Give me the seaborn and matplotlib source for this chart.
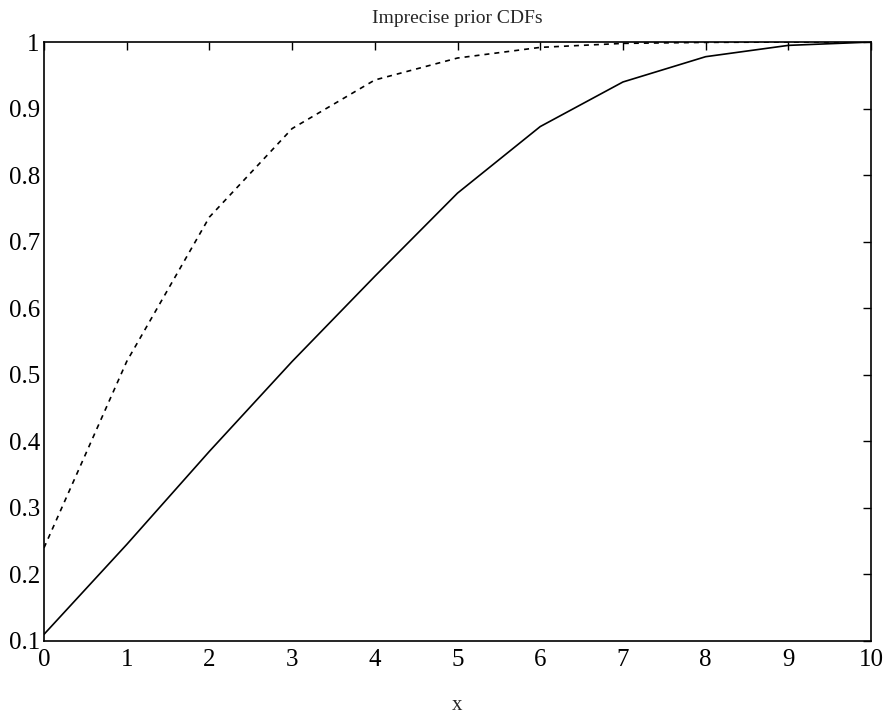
import matplotlib
matplotlib.use("Agg")
import matplotlib.pyplot as plt
import seaborn as sns
import pandas as pd

x_vals = [0, 1, 2, 3, 4, 5, 6, 7, 8, 9, 10]
lower_cdf = [0.11, 0.245, 0.385, 0.52, 0.648, 0.773, 0.873, 0.94, 0.978, 0.995, 1.0]
upper_cdf = [0.24, 0.52, 0.737, 0.87, 0.943, 0.976, 0.992, 0.998, 0.9995, 1.0, 1.0]
x_ticks = [0, 1, 2, 3, 4, 5, 6, 7, 8, 9, 10]
y_ticks = [0.1, 0.2, 0.3, 0.4, 0.5, 0.6, 0.7, 0.8, 0.9, 1.0]
y_tick_labels = ["0.1", "0.2", "0.3", "0.4", "0.5", "0.6", "0.7", "0.8", "0.9", "1"]

df = pd.DataFrame({
    "x": x_vals * 2,
    "cdf": lower_cdf + upper_cdf,
    "curve": ["lower"] * len(x_vals) + ["upper"] * len(x_vals),
})

sns.set_theme(style="white")
plt.rcParams["font.family"] = ["Liberation Serif", "DejaVu Serif"]

fig = plt.figure(figsize=(8.91, 7.25), dpi=100)
ax = fig.add_axes([0.0494, 0.1159, 0.9282, 0.8261])

sns.lineplot(data=df, x="x", y="cdf", style="curve",
             dashes={"lower": "", "upper": (3, 3)},
             color="black", linewidth=1.2, legend=False, ax=ax)

ax.set_xlim(0, 10)
ax.set_ylim(0.1, 1.0)
ax.set_xticks(x_ticks)
ax.set_xticklabels([str(t) for t in x_ticks])
ax.set_yticks(y_ticks)
ax.set_yticklabels(y_tick_labels)
ax.tick_params(direction="in", top=True, right=True, length=6, width=1,
               labelsize=18, colors="black")
ax.tick_params(axis="x", pad=6)
ax.tick_params(axis="y", pad=3)
for s in ax.spines.values():
    s.set_color("black")
    s.set_linewidth(1.2)
    s.set_visible(True)

ax.set_title("Imprecise prior CDFs", fontsize=14, pad=14)
ax.set_xlabel("x", fontsize=15, labelpad=18)
ax.set_ylabel("")

fig.savefig("out.png", dpi=100, facecolor="white")
